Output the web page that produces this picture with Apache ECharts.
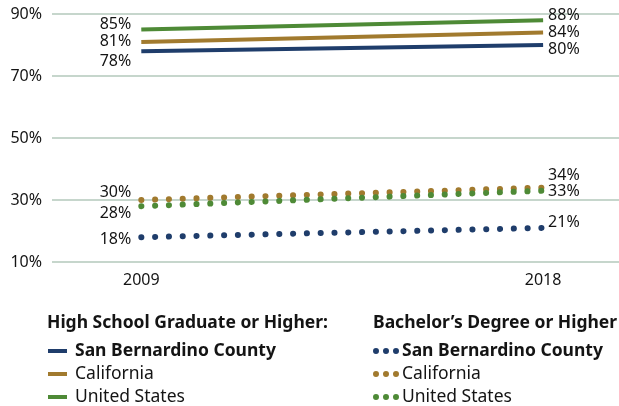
<!DOCTYPE html>
<html>
<head>
<meta charset="utf-8">
<script src="https://cdn.jsdelivr.net/npm/echarts@6/dist/echarts.min.js"></script>
<style>html,body{margin:0;padding:0;background:#fff}#main{width:619px;height:406px}</style>
</head>
<body>
<div id="main"></div>
<script>
// data
var years = [2009, 2018];
var yTicks = [10, 30, 50, 70, 90];
var hsSanBernardino = [78, 80];
var hsCalifornia = [81, 84];
var hsUnitedStates = [85, 88];
var baSanBernardino = [18, 21];
var baCalifornia = [30, 34];
var baUnitedStates = [28, 33];

var NAVY = '#1f3d6b', GOLD = '#a17a2e', GREEN = '#4e8a36';
var FONT = 'Noto Sans';
var TXT = '#141414';

// vertical nudges of the end labels [start, end]
var nudges = {
  hsSB: [10, 4], hsCA: [0, 0], hsUS: [-5, -5],
  baSB: [2, -5], baCA: [-8, -12], baUS: [7, 1]
};

function build(key, vals) {
  return vals.map(function (v, i) {
    return {
      value: [years[i], v],
      label: {
        position: i === 0 ? 'left' : 'right',
        distance: i === 0 ? 10 : 5,
        offset: [0, nudges[key][i]]
      }
    };
  });
}

function mk(key, vals, color, dotted) {
  return {
    type: 'line',
    name: key,
    data: build(key, vals),
    symbol: 'circle',
    symbolSize: 0,
    showSymbol: true,
    color: color,
    itemStyle: { color: color },
    lineStyle: dotted
      ? { color: color, width: 6, type: [0.1, 13.7], cap: 'round' }
      : { color: color, width: 4 },
    label: {
      show: true,
      formatter: function (p) { return p.value[1] + '%'; },
      fontFamily: FONT, fontSize: 16, color: TXT
    },
    emphasis: { disabled: true },
    silent: true,
    animation: false
  };
}

var legendNames = {
  hsSB: 'San Bernardino County', hsCA: 'California', hsUS: 'United States',
  baSB: 'San Bernardino County', baCA: 'California', baUS: 'United States'
};

var dots = 'path://M3,0A3,3,0,1,1,3,6A3,3,0,1,1,3,0ZM13,0A3,3,0,1,1,13,6A3,3,0,1,1,13,0ZM23,0A3,3,0,1,1,23,6A3,3,0,1,1,23,0Z';

var chart = echarts.init(document.getElementById('main'));
chart.setOption({
  animation: false,
  backgroundColor: '#fff',
  grid: { left: 52, right: 0, top: 14, bottom: 144 },
  xAxis: {
    type: 'value', min: 2007, max: 2019.7,
    axisLine: { show: false }, axisTick: { show: false }, splitLine: { show: false },
    axisLabel: {
      customValues: years, margin: 10,
      formatter: function (v) { return String(v); },
      fontFamily: FONT, fontSize: 16, color: TXT
    }
  },
  yAxis: {
    type: 'value', min: yTicks[0], max: yTicks[yTicks.length - 1], interval: 20,
    axisLine: { show: false }, axisTick: { show: false },
    splitLine: { lineStyle: { color: '#b3c8bb', width: 1.5 } },
    axisLabel: { formatter: '{value}%', margin: 10, fontFamily: FONT, fontSize: 16, color: TXT }
  },
  title: [
    { text: 'High School Graduate or Higher:', left: 47, top: 314, padding: 0,
      textStyle: { fontFamily: FONT, fontSize: 17.5, fontWeight: 'bold', color: TXT, lineHeight: 18 } },
    { text: 'Bachelor\u2019s Degree or Higher', left: 373, top: 314, padding: 0,
      textStyle: { fontFamily: FONT, fontSize: 17.5, fontWeight: 'bold', color: TXT, lineHeight: 18 } }
  ],
  legend: [
    {
      orient: 'vertical', left: 48, top: 342, padding: 0, itemGap: 5,
      itemWidth: 19, itemHeight: 4, icon: 'rect', selectedMode: false,
      formatter: function (n) { return legendNames[n]; },
      textStyle: { fontFamily: FONT, fontSize: 17.5, color: TXT, lineHeight: 18, padding: [0, 0, 0, 3] },
      data: [
        { name: 'hsSB', textStyle: { fontWeight: 'bold' } },
        { name: 'hsCA' }, { name: 'hsUS' }
      ]
    },
    {
      orient: 'vertical', left: 373, top: 342, padding: 0, itemGap: 5,
      itemWidth: 26, itemHeight: 6, icon: dots, selectedMode: false,
      formatter: function (n) { return legendNames[n]; },
      textStyle: { fontFamily: FONT, fontSize: 17.5, color: TXT, lineHeight: 18, padding: [0, 0, 0, -2] },
      data: [
        { name: 'baSB', textStyle: { fontWeight: 'bold' } },
        { name: 'baCA' }, { name: 'baUS' }
      ]
    }
  ],
  series: [
    mk('hsSB', hsSanBernardino, NAVY, false),
    mk('hsCA', hsCalifornia, GOLD, false),
    mk('hsUS', hsUnitedStates, GREEN, false),
    mk('baSB', baSanBernardino, NAVY, true),
    mk('baCA', baCalifornia, GOLD, true),
    mk('baUS', baUnitedStates, GREEN, true)
  ]
});
</script>
</body>
</html>
